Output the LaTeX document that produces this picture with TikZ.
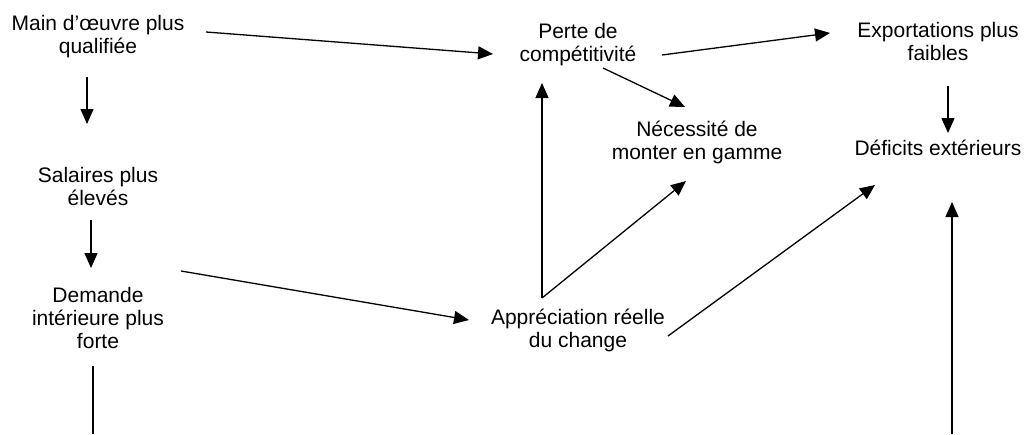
\documentclass[tikz,border=0pt]{standalone}
\usepackage{fontspec}
\setmainfont{Liberation Sans}
\usepackage{tikz}
\usetikzlibrary{arrows.meta,calc}

\begin{document}
\begin{tikzpicture}[x=1pt,y=-1pt,
    lbl/.style={align=center,inner sep=0pt,anchor=base,font=\fontsize{21}{23}\selectfont},
    arr/.style={line width=1.3pt,-{Triangle[length=15pt,width=13pt]}}]
  \useasboundingbox (0,0) rectangle (1024,434);
  % causes (left column)
  \node[lbl] (main) at (98,53) {Main d’œuvre plus\\qualifiée};
  \node[lbl] (sal) at (98,205) {Salaires plus\\élevés};
  \node[lbl] (dem) at (98,348) {Demande\\intérieure plus\\forte};
  % effects
  \node[lbl] (apprec) at (578,347) {Appréciation réelle\\du change};
  \node[lbl] (perte) at (578,61) {Perte de\\compétitivité};
  \node[lbl] (necess) at (697,159) {Nécessité de\\monter en gamme};
  \node[lbl] (export) at (938,60) {Exportations plus\\faibles};
  \node[lbl] (deficit) at (938,155) {Déficits extérieurs};
  \coordinate (bas1) at (93,434);
  \coordinate (bas2) at (952,434);
  % links
  \draw[arr] ([shift={(108,-21)}]main.base) -- ([shift={(-85,-7)}]perte.base);
  \draw[arr] ([shift={(-11,24)}]main.base) -- ([shift={(-11,-81)}]sal.base);
  \draw[arr] ([shift={(-7,15)}]sal.base) -- ([shift={(-7,-80)}]dem.base);
  \draw[arr] ([shift={(83,-77)}]dem.base) -- ([shift={(-109,-27)}]apprec.base);
  \draw[arr] ([shift={(84,-6)}]perte.base) -- ([shift={(-108,-27)}]export.base);
  \draw[arr] ([shift={(25,7)}]perte.base) -- ([shift={(-12,-52)}]necess.base);
  \draw[arr] ([shift={(-36,-49)}]apprec.base) -- ([shift={(-36,22)}]perte.base);
  \draw[arr] ([shift={(-36,-49)}]apprec.base) -- ([shift={(-11,22)}]necess.base);
  \draw[arr] ([shift={(90,-11)}]apprec.base) -- ([shift={(-63,30)}]deficit.base);
  \draw[arr] ([shift={(10,26)}]export.base) -- ([shift={(10,-22)}]deficit.base);
  \draw[arr] (bas2) -- ([shift={(14,47)}]deficit.base);
  \draw[line width=1.3pt] ([shift={(-5,18)}]dem.base) -- (bas1);
\end{tikzpicture}
\end{document}
